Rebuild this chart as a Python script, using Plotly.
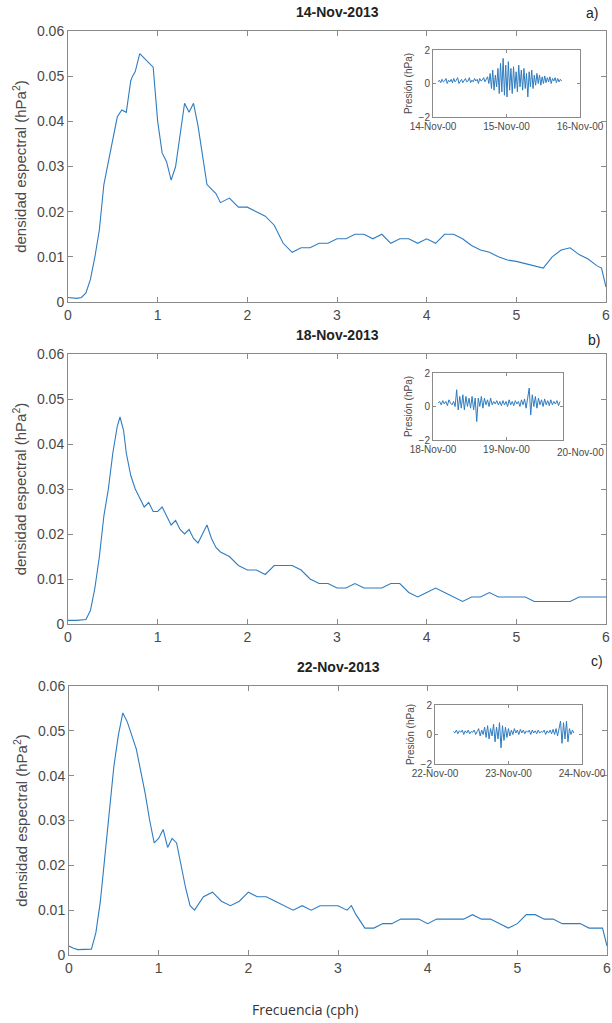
import numpy as np
import plotly.graph_objects as go

W, H = 612, 1023

# ---------------- data ----------------
freq_a = [0, 0.05, 0.1, 0.15, 0.2, 0.25, 0.3, 0.35, 0.4, 0.45, 0.5, 0.55, 0.6, 0.65, 0.7, 0.72, 0.75, 0.8,
          0.85, 0.9, 0.95, 1.0, 1.05, 1.1, 1.15, 1.2, 1.25, 1.3, 1.35, 1.4, 1.45, 1.5, 1.55, 1.6, 1.65, 1.7,
          1.8, 1.9, 2.0, 2.1, 2.2, 2.3, 2.4, 2.5, 2.6, 2.7, 2.8, 2.9, 3.0, 3.1, 3.2, 3.3, 3.4, 3.5, 3.6,
          3.7, 3.8, 3.9, 4.0, 4.1, 4.2, 4.3, 4.4, 4.5, 4.6, 4.7, 4.8, 4.9, 5.0, 5.1, 5.2, 5.3, 5.4, 5.5,
          5.6, 5.7, 5.8, 5.9, 5.95, 6.0]
dens_a = [0.0010, 0.0009, 0.0008, 0.0010, 0.0020, 0.0050, 0.0100, 0.0160, 0.0260, 0.0310, 0.0360, 0.0410,
          0.0425, 0.0420, 0.0490, 0.0500, 0.0510, 0.0550, 0.0540, 0.0530, 0.0520, 0.0400, 0.0330, 0.0310,
          0.0270, 0.0300, 0.0370, 0.0440, 0.0420, 0.0440, 0.0390, 0.0330, 0.0260, 0.0250, 0.0240, 0.0220,
          0.0230, 0.0210, 0.0210, 0.0200, 0.0190, 0.0170, 0.0130, 0.0110, 0.0120, 0.0120, 0.0130, 0.0130,
          0.0140, 0.0140, 0.0150, 0.0150, 0.0140, 0.0150, 0.0130, 0.0140, 0.0140, 0.0130, 0.0140, 0.0130,
          0.0150, 0.0150, 0.0140, 0.0125, 0.0115, 0.0110, 0.0100, 0.0093, 0.0090, 0.0085, 0.0080, 0.0075,
          0.0100, 0.0115, 0.0120, 0.0105, 0.0095, 0.0080, 0.0075, 0.0033]

freq_b = [0, 0.1, 0.2, 0.25, 0.3, 0.35, 0.4, 0.45, 0.5, 0.55, 0.58, 0.62, 0.65, 0.7, 0.75, 0.8, 0.85, 0.9,
          0.95, 1.0, 1.05, 1.1, 1.15, 1.2, 1.25, 1.3, 1.35, 1.4, 1.45, 1.5, 1.55, 1.6, 1.65, 1.7, 1.8, 1.9,
          2.0, 2.1, 2.2, 2.3, 2.4, 2.5, 2.6, 2.7, 2.8, 2.9, 3.0, 3.1, 3.2, 3.3, 3.4, 3.5, 3.6, 3.7, 3.8,
          3.9, 4.0, 4.1, 4.2, 4.3, 4.4, 4.5, 4.6, 4.7, 4.8, 4.9, 5.0, 5.1, 5.2, 5.3, 5.4, 5.5, 5.6, 5.7,
          5.8, 5.9, 6.0]
dens_b = [0.0008, 0.0008, 0.0010, 0.0030, 0.0080, 0.0150, 0.0240, 0.0300, 0.0380, 0.0440, 0.0460, 0.0430,
          0.0380, 0.0330, 0.0300, 0.0280, 0.0260, 0.0270, 0.0250, 0.0250, 0.0260, 0.0240, 0.0220, 0.0230,
          0.0210, 0.0200, 0.0210, 0.0190, 0.0180, 0.0200, 0.0220, 0.0190, 0.0170, 0.0160, 0.0150, 0.0130,
          0.0120, 0.0120, 0.0110, 0.0130, 0.0130, 0.0130, 0.0120, 0.0100, 0.0090, 0.0090, 0.0080, 0.0080,
          0.0090, 0.0080, 0.0080, 0.0080, 0.0090, 0.0090, 0.0070, 0.0060, 0.0070, 0.0080, 0.0070, 0.0060,
          0.0050, 0.0060, 0.0060, 0.0070, 0.0060, 0.0060, 0.0060, 0.0060, 0.0050, 0.0050, 0.0050, 0.0050,
          0.0050, 0.0060, 0.0060, 0.0060, 0.0060]

freq_c = [0, 0.05, 0.1, 0.15, 0.2, 0.25, 0.3, 0.35, 0.4, 0.45, 0.5, 0.55, 0.6, 0.65, 0.7, 0.75, 0.8, 0.85,
          0.9, 0.95, 1.0, 1.05, 1.1, 1.15, 1.2, 1.25, 1.3, 1.35, 1.4, 1.5, 1.6, 1.7, 1.8, 1.9, 2.0, 2.1,
          2.2, 2.3, 2.4, 2.5, 2.6, 2.7, 2.8, 2.9, 3.0, 3.1, 3.15, 3.2, 3.3, 3.4, 3.5, 3.6, 3.7, 3.8, 3.9,
          4.0, 4.1, 4.2, 4.3, 4.4, 4.5, 4.6, 4.7, 4.8, 4.9, 5.0, 5.1, 5.2, 5.3, 5.4, 5.5, 5.6, 5.7, 5.8,
          5.9, 5.95, 6.0]
dens_c = [0.0020, 0.0015, 0.0012, 0.0012, 0.0012, 0.0013, 0.0050, 0.0120, 0.0220, 0.0320, 0.0420, 0.0490,
          0.0540, 0.0520, 0.0490, 0.0460, 0.0410, 0.0360, 0.0300, 0.0250, 0.0260, 0.0280, 0.0240, 0.0260,
          0.0250, 0.0200, 0.0150, 0.0110, 0.0100, 0.0130, 0.0140, 0.0120, 0.0110, 0.0120, 0.0140, 0.0130,
          0.0130, 0.0120, 0.0110, 0.0100, 0.0110, 0.0100, 0.0110, 0.0110, 0.0110, 0.0100, 0.0110, 0.0090,
          0.0060, 0.0060, 0.0070, 0.0070, 0.0080, 0.0080, 0.0080, 0.0070, 0.0080, 0.0080, 0.0080, 0.0080,
          0.0090, 0.0080, 0.0080, 0.0070, 0.0060, 0.0070, 0.0090, 0.0090, 0.0080, 0.0080, 0.0070, 0.0070,
          0.0070, 0.0060, 0.0060, 0.0060, 0.0020]

titles = ["14-Nov-2013", "18-Nov-2013", "22-Nov-2013"]
panel_tags = ["a)", "b)", "c)"]
y_ticks = [0, 0.01, 0.02, 0.03, 0.04, 0.05, 0.06]
y_tick_text = ["0", "0.01", "0.02", "0.03", "0.04", "0.05", "0.06"]
x_ticks = [0, 1, 2, 3, 4, 5, 6]

# insets: pressure (hPa) vs day of November
pres_a = [0.1, 0.2, 0.05, 0.25, 0.1, 0.15, 0.3, 0.0, 0.2, 0.1, 0.25, 0.05, 0.3, 0.1, 0.2, 0.35, 0.0, 0.15,
          0.25, 0.05, 0.2, 0.3, 0.1, 0.15, 0.35, 0.05, 0.2, 0.1, 0.3, 0.15, 0.25, 0.0, 0.3, 0.15, 0.2, 0.35,
          0.1, 0.25, 0.4, 0.0,
          0.6, -0.3, 0.8, -0.4, 0.5, -0.2, 0.9, -0.6, 1.2, -0.5, 1.5, -0.7, 1.1, -0.8, 1.3, -0.4, 0.9, -0.6,
          1.0, -0.3, 0.7, -0.5, 1.1, -0.2, 0.8, -0.4, 0.9, -0.3, 0.6, -0.8, 0.7, -0.2, 0.8, -0.3, 0.5, -0.1,
          0.6, 0.0, 0.5, -0.1,
          0.4, 0.0, 0.45, 0.05, 0.35, 0.1, 0.4, 0.0, 0.3, 0.15, 0.35, 0.05, 0.3, 0.1, 0.25, 0.15]
pres_b = [0.2, 0.3, 0.1, 0.35, 0.15, 0.3, 0.05, 0.4, 0.2, 0.1, 0.3, 0.0,
          1.0, -0.2, 0.6, -0.1, 0.7, -0.2, 0.6, 0.0, 0.5, -0.1, 0.6, -0.2, 0.5,
          -0.9, 0.5, 0.0, 0.6, -0.1, 0.5, 0.1, 0.4, 0.0, 0.5, 0.1, 0.3, 0.15, 0.35, 0.1, 0.3, 0.05, 0.35,
          0.1, 0.3, 0.0, 0.4, 0.1, 0.3, 0.05, 0.35, 0.15, 0.3, 0.0, 0.4, 0.1, 0.45, -0.1, 0.5,
          1.1, -0.5, 0.7, 0.0, 0.6, -0.1, 0.5, 0.1, 0.4, 0.0, 0.45, 0.1, 0.35, 0.05, 0.4, 0.1, 0.3, 0.15,
          0.35, 0.05, 0.3]
pres_c = [0.2, 0.1, 0.3, 0.05, 0.25, 0.15, 0.3, 0.0, 0.25, 0.1, 0.3, 0.05, 0.2, 0.15, 0.3, 0.0, 0.2,
          0.4, -0.1, 0.3, 0.0, 0.5, -0.2, 0.6, -0.3, 0.4, -0.1, 0.7, -0.5, 0.5, -0.3, 0.8, -0.9, 0.6, -0.4,
          0.5, -0.2, 0.4, -0.1, 0.3, 0.0, 0.4,
          0.1, 0.3, 0.0, 0.35, 0.1, 0.3, 0.05, 0.25, 0.15, 0.3, 0.0, 0.3, 0.1, 0.25, 0.05, 0.3, 0.1, 0.2,
          0.15, 0.3, 0.0, 0.25, 0.1, 0.3, 0.05, 0.35, 0.0, 0.4, -0.1, 0.5,
          0.9, -0.6, 0.8, -0.3, 0.9, -0.5, 0.4, 0.0, 0.3, 0.1]
span_a = (14.07, 15.75)
span_b = (18.07, 19.73)
span_c = (22.25, 23.89)
inset_ticks_a = ["14-Nov-00", "15-Nov-00", "16-Nov-00"]
inset_ticks_b = ["18-Nov-00", "19-Nov-00", "20-Nov-00"]
inset_ticks_c = ["22-Nov-00", "23-Nov-00", "24-Nov-00"]

# ---------------- layout helpers ----------------
def fx(px):
    return px / W

def fy(py):
    return 1 - py / H

LINE = "#2f7cc0"
AXC = "#8a8a8a"
TXT = "#4a4a4a"
FONT = "Liberation Sans"

fig = go.Figure()

panels = [
    dict(f=freq_a, d=dens_a, top=31, bot=302, x0=68, x1=606),
    dict(f=freq_b, d=dens_b, top=354, bot=624, x0=68, x1=606),
    dict(f=freq_c, d=dens_c, top=686, bot=955, x0=69, x1=607),
]

insets = [
    dict(p=pres_a, span=span_a, day0=14, labs=inset_ticks_a, x0=433, x1=580, top=50, bot=117, rng=(14, 16)),
    dict(p=pres_b, span=span_b, day0=18, labs=inset_ticks_b, x0=433, x1=563, top=373, bot=440, rng=(18, 19.77)),
    dict(p=pres_c, span=span_c, day0=22, labs=inset_ticks_c, x0=435, x1=582, top=705, bot=764, rng=(22, 24)),
]

layout = dict(
    width=W, height=H,
    margin=dict(l=0, r=0, t=0, b=0, autoexpand=False),
    paper_bgcolor="white", plot_bgcolor="white",
    showlegend=False,
    font=dict(family=FONT, color=TXT),
)
annotations = []

for i, p in enumerate(panels):
    n = i + 1
    xa = "xaxis" if n == 1 else f"xaxis{n}"
    ya = "yaxis" if n == 1 else f"yaxis{n}"
    xr = "x" if n == 1 else f"x{n}"
    yr = "y" if n == 1 else f"y{n}"
    fig.add_trace(go.Scatter(x=p["f"], y=p["d"], mode="lines", line=dict(color=LINE, width=1.1),
                             xaxis=xr, yaxis=yr, hoverinfo="skip"))
    layout[xa] = dict(domain=[fx(p["x0"]), fx(p["x1"])], range=[0, 6], anchor=yr, automargin=False,
                      tickvals=x_ticks, showline=True, mirror="ticks", linecolor=AXC, linewidth=1,
                      ticks="inside", ticklen=5, tickcolor=AXC, showgrid=False, zeroline=False,
                      tickfont=dict(size=14, color=TXT, family=FONT), fixedrange=True)
    layout[ya] = dict(domain=[fy(p["bot"]), fy(p["top"])], range=[0, 0.06], anchor=xr, automargin=False,
                      tickvals=y_ticks, ticktext=y_tick_text,
                      showline=True, mirror="ticks", linecolor=AXC, linewidth=1,
                      ticks="inside", ticklen=5, tickcolor=AXC, showgrid=False, zeroline=False,
                      tickfont=dict(size=14, color=TXT, family=FONT),
                      title=dict(text="densidad espectral (hPa<sup>2</sup>)", standoff=6,
                                 font=dict(size=15, color=TXT, family=FONT)),
                      fixedrange=True)
    annotations.append(dict(text=f"<b>{titles[i]}</b>", xref="paper", yref="paper",
                            x=fx((p["x0"] + p["x1"]) / 2), y=fy(p["top"] - 19), xanchor="center",
                            yanchor="middle", showarrow=False,
                            font=dict(size=14, color="#222222", family=FONT)))

tag_pos = [(592, 13), (594, 340), (597, 661)]
for t, (tx, ty) in zip(panel_tags, tag_pos):
    annotations.append(dict(text=t, xref="paper", yref="paper", x=fx(tx), y=fy(ty), xanchor="center",
                            yanchor="middle", showarrow=False, font=dict(size=14, color="#222222", family=FONT)))

for j, s in enumerate(insets):
    n = j + 4
    xa, ya, xr, yr = f"xaxis{n}", f"yaxis{n}", f"x{n}", f"y{n}"
    t = np.linspace(s["span"][0], s["span"][1], len(s["p"]))
    fig.add_trace(go.Scatter(x=t, y=s["p"], mode="lines", line=dict(color=LINE, width=1),
                             xaxis=xr, yaxis=yr, hoverinfo="skip"))
    tv = [s["day0"], s["day0"] + 1, s["day0"] + 2]
    tt = list(s["labs"])
    if s["rng"][1] < s["day0"] + 2:
        tv = tv[:2]
        tt = tt[:2]
        annotations.append(dict(text=s["labs"][2], xref="paper", yref="paper", x=fx(580),
                                y=fy(s["bot"] + 12), xanchor="center", yanchor="middle", showarrow=False,
                                font=dict(size=10, color=TXT, family=FONT)))
    layout[xa] = dict(domain=[fx(s["x0"]), fx(s["x1"])], range=list(s["rng"]), anchor=yr, automargin=False,
                      tickvals=tv, ticktext=tt, showline=True, mirror="ticks", linecolor=AXC,
                      linewidth=1, ticks="inside", ticklen=3, tickcolor=AXC, showgrid=False,
                      zeroline=False, tickfont=dict(size=10, color=TXT, family=FONT), fixedrange=True)
    layout[ya] = dict(domain=[fy(s["bot"]), fy(s["top"])], range=[-2, 2], anchor=xr, automargin=False,
                      tickvals=[-2, 0, 2], showline=True, mirror="ticks", linecolor=AXC, linewidth=1,
                      ticks="inside", ticklen=3, tickcolor=AXC, showgrid=False, zeroline=False,
                      tickfont=dict(size=10, color=TXT, family=FONT),
                      title=dict(text="Presión (hPa)", standoff=4, font=dict(size=10, color=TXT, family=FONT)),
                      fixedrange=True)

annotations.append(dict(text="Frecuencia (cph)", xref="paper", yref="paper", x=fx(305), y=fy(1009),
                        xanchor="center", yanchor="middle", showarrow=False,
                        font=dict(size=14, color="#333333", family="Open Sans")))

layout["annotations"] = annotations
fig.update_layout(**layout)
fig.write_html("out.html")
